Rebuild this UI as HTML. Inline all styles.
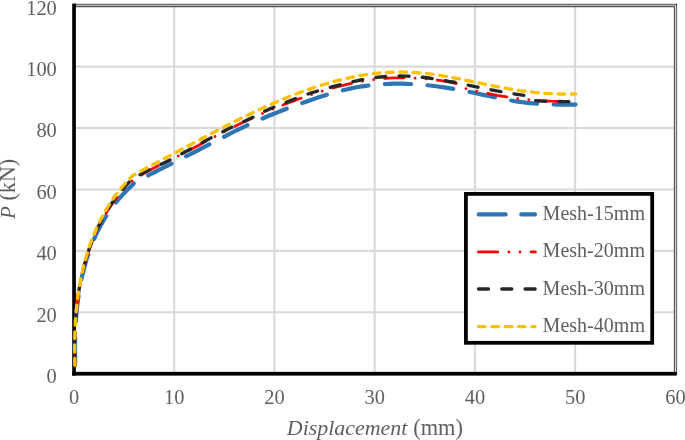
<!DOCTYPE html>
<html><head><meta charset="utf-8"><title>Chart</title>
<style>
html,body{margin:0;padding:0;background:#fff;}
body{width:685px;height:440px;overflow:hidden;font-family:"Liberation Serif",serif;}
svg{display:block;will-change:transform;filter:blur(0.35px);}
text{font-family:"Liberation Serif",serif;fill:#5f5f5f;}
.tick text{font-size:20.4px;}
.leg text{font-size:20.05px;}
.curve{fill:none;stroke-linecap:round;stroke-linejoin:round;}
</style></head><body>
<svg width="685" height="440" viewBox="0 0 685 440">
<rect x="0" y="0" width="685" height="440" fill="#fff"/>
<g stroke="#d9d9d9" stroke-width="2.1">
<line x1="174.2" y1="6" x2="174.2" y2="372" />
<line x1="274.4" y1="6" x2="274.4" y2="372" />
<line x1="374.7" y1="6" x2="374.7" y2="372" />
<line x1="474.9" y1="6" x2="474.9" y2="372" />
<line x1="575.1" y1="6" x2="575.1" y2="372" />
<line x1="76" y1="312.3" x2="674" y2="312.3" />
<line x1="76" y1="250.9" x2="674" y2="250.9" />
<line x1="76" y1="189.5" x2="674" y2="189.5" />
<line x1="76" y1="128.0" x2="674" y2="128.0" />
<line x1="76" y1="66.6" x2="674" y2="66.6" />
</g>
<!-- frame double line -->
<polyline points="74,4.5 676.5,4.5 676.5,375" fill="none" stroke="#707070" stroke-width="1.3"/>
<rect x="676" y="4" width="1" height="1" fill="#111"/>
<polyline points="74,6.5 674.5,6.5 674.5,373" fill="none" stroke="#565656" stroke-width="1.3"/>
<!-- axes -->
<rect x="72.2" y="3.6" width="3.7" height="372" fill="#000"/>
<rect x="72.2" y="371.85" width="604.5" height="3.75" fill="#000"/>
<!-- curves -->
<path class="curve" d="M75.4,367.9 L75.2,364.6 L75.1,361.2 L75.1,357.9 L75.0,354.6 L75.0,351.2 L75.0,347.8 L75.0,344.5 L75.0,341.1 L75.1,337.7 L75.2,334.3 L75.3,330.9 L75.5,327.5 L75.7,324.1 L75.9,320.7 L76.1,317.2 L76.4,313.8 L76.7,310.4 L77.1,307.0 L77.5,303.6 L77.9,300.2 L78.4,296.8 L78.9,293.5 L79.4,290.1 L80.0,286.7 L80.6,283.4 L81.3,280.0 L82.0,276.7 L82.8,273.4 L83.6,270.1 L84.5,266.8 L85.4,263.5 L86.3,260.3 L87.3,257.0 L88.4,253.8 L89.5,250.6 L90.6,247.5 L91.9,244.3 L93.1,241.2 L94.5,238.1 L95.8,235.1 L97.3,232.0 L98.8,229.0 L100.3,226.0 L102.0,223.1 L103.7,220.2 L105.4,217.3 L107.2,214.5 L109.1,211.7 L111.0,208.9 L113.0,206.1 L115.1,203.4 L117.3,200.8 L119.5,198.2 L121.8,195.6 L124.1,193.1 L126.5,190.6 L129.0,188.2 L131.6,185.8 L134.0,183.1 L138.0,180.9 L142.0,178.7 L146.0,176.6 L150.0,174.5 L154.0,172.5 L158.0,170.4 L162.0,168.4 L166.0,166.4 L170.0,164.4 L174.0,162.4 L178.0,160.3 L182.0,158.3 L186.0,156.3 L190.0,154.3 L194.0,152.3 L198.0,150.3 L202.0,148.2 L206.0,146.1 L210.0,144.1 L214.0,142.0 L218.0,139.9 L222.0,137.8 L226.0,135.8 L230.0,133.7 L234.0,131.7 L238.0,129.7 L242.0,127.8 L246.0,125.9 L250.0,124.0 L254.0,122.2 L258.0,120.4 L262.0,118.7 L266.0,117.0 L270.0,115.3 L274.0,113.7 L278.0,112.1 L282.0,110.5 L286.0,109.0 L290.0,107.5 L294.0,106.0 L298.0,104.6 L302.0,103.1 L306.0,101.7 L310.0,100.3 L314.0,98.9 L318.0,97.6 L322.0,96.3 L326.0,95.0 L330.0,93.8 L334.0,92.7 L338.0,91.6 L342.0,90.5 L346.0,89.5 L350.0,88.6 L354.0,87.8 L358.0,87.0 L362.0,86.4 L366.0,85.8 L370.0,85.3 L374.0,84.8 L378.0,84.5 L382.0,84.2 L386.0,84.0 L390.0,83.8 L394.0,83.7 L398.0,83.7 L402.0,83.7 L406.0,83.8 L410.0,84.0 L414.0,84.2 L418.0,84.4 L422.0,84.8 L426.0,85.1 L430.0,85.5 L434.0,86.0 L438.0,86.5 L442.0,87.1 L446.0,87.7 L450.0,88.3 L454.0,89.0 L458.0,89.7 L462.0,90.4 L466.0,91.2 L470.0,92.0 L474.0,92.8 L478.0,93.7 L482.0,94.6 L486.0,95.4 L490.0,96.3 L494.0,97.1 L498.0,98.0 L502.0,98.8 L506.0,99.6 L510.0,100.3 L514.0,101.0 L518.0,101.6 L522.0,102.2 L526.0,102.7 L530.0,103.1 L534.0,103.5 L538.0,103.8 L542.0,104.1 L546.0,104.3 L550.0,104.4 L554.0,104.5 L558.0,104.6 L562.0,104.7 L566.0,104.7 L570.0,104.7 L574.0,104.6 L575.5,104.6" stroke="#2e75b6" stroke-width="4.2" stroke-dasharray="26 16.6" stroke-dashoffset="-3.7"/>
<path class="curve" d="M75.1,367.9 L75.0,364.5 L74.9,361.2 L74.8,357.8 L74.8,354.4 L74.7,351.0 L74.7,347.6 L74.7,344.2 L74.8,340.8 L74.9,337.4 L75.0,334.0 L75.1,330.6 L75.3,327.1 L75.5,323.7 L75.7,320.3 L75.9,316.8 L76.2,313.4 L76.6,310.0 L76.9,306.6 L77.3,303.1 L77.7,299.7 L78.2,296.3 L78.7,292.9 L79.3,289.5 L79.8,286.1 L80.5,282.7 L81.1,279.4 L81.9,276.0 L82.6,272.6 L83.4,269.3 L84.2,266.0 L85.1,262.7 L86.1,259.4 L87.1,256.1 L88.1,252.9 L89.2,249.7 L90.3,246.4 L91.5,243.3 L92.7,240.1 L94.0,236.9 L95.4,233.8 L96.8,230.7 L98.2,227.7 L99.7,224.6 L101.3,221.6 L102.9,218.6 L104.6,215.7 L106.3,212.8 L108.1,209.9 L110.0,207.0 L111.9,204.2 L113.9,201.4 L116.0,198.7 L118.1,195.9 L120.3,193.3 L122.6,190.6 L124.9,188.0 L127.3,185.5 L129.7,183.0 L132.3,180.7 L136.3,178.1 L140.3,175.6 L144.3,173.2 L148.3,171.0 L152.4,168.8 L156.4,166.8 L160.4,164.8 L164.4,162.8 L168.4,160.8 L172.4,158.9 L176.4,156.9 L180.4,154.9 L184.5,152.8 L188.5,150.7 L192.5,148.6 L196.5,146.5 L200.5,144.3 L204.5,142.1 L208.5,140.0 L212.5,137.8 L216.6,135.7 L220.6,133.6 L224.6,131.5 L228.6,129.5 L232.6,127.5 L236.6,125.5 L240.6,123.6 L244.6,121.6 L248.7,119.7 L252.7,117.9 L256.7,116.1 L260.7,114.3 L264.7,112.5 L268.7,110.8 L272.7,109.1 L276.7,107.4 L280.8,105.8 L284.8,104.2 L288.8,102.6 L292.8,101.1 L296.8,99.6 L300.8,98.2 L304.8,96.7 L308.8,95.4 L312.9,94.0 L316.9,92.7 L320.9,91.5 L324.9,90.2 L328.9,89.0 L332.9,87.9 L336.9,86.8 L340.9,85.8 L345.0,84.8 L349.0,83.9 L353.0,83.0 L357.0,82.2 L361.0,81.5 L365.0,80.8 L369.0,80.2 L373.0,79.6 L377.1,79.1 L381.1,78.7 L385.1,78.4 L389.1,78.1 L393.1,77.9 L397.1,77.8 L401.1,77.8 L405.1,77.8 L409.2,77.8 L413.2,78.0 L417.2,78.2 L421.2,78.4 L425.2,78.8 L429.2,79.2 L433.2,79.6 L437.2,80.1 L441.3,80.7 L445.3,81.4 L449.3,82.1 L453.3,82.8 L457.3,83.6 L465.1,88.5 L469.1,89.4 L473.2,90.4 L477.2,91.3 L481.3,92.2 L485.3,93.0 L489.4,93.8 L493.4,94.6 L497.4,95.4 L501.5,96.1 L505.5,96.7 L509.6,97.3 L513.6,97.9 L517.7,98.5 L521.7,98.9 L525.7,99.4 L529.8,99.8 L533.8,100.2 L537.9,100.5 L541.9,100.8 L545.9,101.0 L550.0,101.2 L554.0,101.3 L558.1,101.4 L562.1,101.4 L566.2,101.4 L570.2,101.3" stroke="#ff0000" stroke-width="2.8" stroke-dasharray="19.4 11.1 0.01 11.1 0.01 11.1" stroke-dashoffset="-1.7"/>
<path class="curve" d="M75.0,367.9 L74.9,364.5 L74.8,361.1 L74.7,357.7 L74.7,354.3 L74.6,350.9 L74.6,347.4 L74.6,344.0 L74.7,340.6 L74.8,337.1 L74.9,333.7 L75.0,330.2 L75.2,326.8 L75.4,323.3 L75.6,319.8 L75.8,316.4 L76.1,312.9 L76.5,309.4 L76.8,306.0 L77.2,302.5 L77.7,299.1 L78.2,295.6 L78.7,292.2 L79.2,288.8 L79.8,285.4 L80.5,282.0 L81.1,278.6 L81.9,275.2 L82.6,271.8 L83.4,268.4 L84.3,265.1 L85.2,261.8 L86.1,258.5 L87.1,255.2 L88.2,251.9 L89.3,248.6 L90.4,245.4 L91.6,242.2 L92.9,239.0 L94.2,235.8 L95.5,232.7 L96.9,229.5 L98.4,226.4 L99.9,223.4 L101.5,220.3 L103.1,217.3 L104.8,214.3 L106.6,211.4 L108.4,208.5 L110.3,205.6 L112.2,202.7 L114.2,199.9 L116.3,197.1 L118.4,194.4 L120.6,191.7 L122.8,189.0 L125.2,186.4 L127.6,183.8 L130.0,181.2 L132.5,178.9 L136.5,176.6 L140.5,174.4 L144.5,172.3 L148.5,170.3 L152.5,168.4 L156.5,166.5 L160.5,164.6 L164.5,162.7 L168.5,160.7 L172.5,158.7 L176.5,156.6 L180.5,154.5 L184.5,152.3 L188.5,150.1 L192.5,147.9 L196.5,145.7 L200.6,143.5 L204.6,141.3 L208.6,139.2 L212.6,137.0 L216.6,134.9 L220.6,132.8 L224.6,130.8 L228.6,128.8 L232.6,126.8 L236.6,124.9 L240.6,123.0 L244.6,121.2 L248.6,119.3 L252.6,117.4 L256.6,115.4 L260.6,113.3 L264.6,111.3 L268.6,109.4 L272.6,107.7 L276.6,106.1 L280.6,104.5 L284.6,102.9 L288.6,101.3 L292.6,99.7 L296.6,98.2 L300.6,96.7 L304.6,95.2 L308.6,93.8 L312.6,92.5 L316.6,91.3 L320.6,90.1 L324.6,88.9 L328.6,87.8 L332.7,86.7 L336.7,85.6 L340.7,84.6 L344.7,83.6 L348.7,82.6 L352.7,81.7 L356.7,80.8 L360.7,80.0 L364.7,79.3 L368.7,78.6 L372.7,78.0 L376.7,77.4 L380.7,77.0 L384.7,76.6 L388.7,76.3 L392.7,76.1 L396.7,76.0 L400.7,76.0 L404.7,76.1 L408.7,76.2 L412.7,76.5 L416.7,76.8 L420.7,77.1 L424.7,77.5 L428.7,78.0 L432.7,78.6 L436.7,79.2 L440.7,79.8 L444.7,80.5 L448.7,81.3 L452.7,82.0 L456.7,82.8 L460.8,83.7 L464.8,84.5 L468.8,85.3 L472.8,86.1 L476.8,87.0 L480.8,87.8 L484.8,88.6 L488.8,89.4 L492.8,90.1 L496.8,90.9 L500.8,91.6 L504.8,92.3 L508.8,93.0 L512.8,93.7 L516.8,94.3 L520.8,94.9 L524.8,95.5 L531.8,100.4 L535.8,100.7 L539.7,101.0 L543.7,101.2 L547.7,101.3 L551.7,101.4 L555.6,101.5 L559.6,101.5 L563.6,101.6 L567.6,101.6 L571.5,101.7 L575.5,101.8" stroke="#262626" stroke-width="3.33" stroke-dasharray="10 13.3" stroke-dashoffset="-2.7"/>
<path class="curve" d="M75.0,366.8 L74.9,363.5 L74.8,360.0 L74.7,356.6 L74.7,353.2 L74.6,349.8 L74.6,346.3 L74.7,342.8 L74.7,339.4 L74.8,335.9 L74.9,332.4 L75.0,329.0 L75.2,325.5 L75.4,322.0 L75.6,318.5 L75.9,315.0 L76.2,311.5 L76.5,308.1 L76.9,304.6 L77.3,301.1 L77.7,297.6 L78.2,294.2 L78.7,290.7 L79.3,287.3 L79.9,283.8 L80.5,280.4 L81.2,277.0 L81.9,273.5 L82.7,270.1 L83.5,266.8 L84.3,263.4 L85.2,260.0 L86.2,256.7 L87.2,253.4 L88.2,250.1 L89.3,246.8 L90.4,243.5 L91.6,240.3 L92.9,237.0 L94.2,233.8 L95.5,230.6 L96.9,227.5 L98.4,224.4 L99.9,221.3 L101.4,218.2 L103.1,215.1 L104.7,212.1 L106.5,209.1 L108.3,206.2 L110.1,203.3 L112.0,200.4 L114.0,197.5 L116.1,194.7 L118.2,191.9 L120.4,189.2 L122.6,186.5 L124.9,183.8 L127.3,181.2 L129.7,178.6 L132.3,175.8 L136.3,173.6 L140.3,171.4 L144.3,169.3 L148.4,167.1 L152.4,165.0 L156.4,162.8 L160.4,160.7 L164.4,158.5 L168.4,156.4 L172.4,154.2 L176.5,152.1 L180.5,150.0 L184.5,147.8 L188.5,145.7 L192.5,143.6 L196.5,141.4 L200.6,139.3 L204.6,137.2 L208.6,135.1 L212.6,132.9 L216.6,130.9 L220.6,128.8 L224.6,126.7 L228.7,124.6 L232.7,122.6 L236.7,120.6 L240.7,118.6 L244.7,116.6 L248.7,114.7 L252.7,112.7 L256.8,110.8 L260.8,109.0 L264.8,107.1 L268.8,105.3 L272.8,103.6 L276.8,101.8 L280.9,100.1 L284.9,98.4 L288.9,96.8 L292.9,95.2 L296.9,93.7 L300.9,92.1 L304.9,90.7 L309.0,89.3 L313.0,87.9 L317.0,86.6 L321.0,85.3 L325.0,84.0 L329.0,82.9 L333.0,81.7 L337.1,80.7 L341.1,79.7 L345.1,78.7 L349.1,77.8 L353.1,77.0 L357.1,76.2 L361.1,75.5 L365.2,74.8 L369.2,74.3 L373.2,73.7 L377.2,73.3 L381.2,72.9 L385.2,72.6 L389.3,72.3 L393.3,72.2 L397.3,72.1 L401.3,72.0 L405.3,72.1 L409.3,72.2 L413.3,72.4 L417.4,72.6 L421.4,73.0 L425.4,73.4 L429.4,73.9 L433.4,74.4 L437.4,75.0 L441.4,75.6 L445.5,76.3 L449.5,77.0 L453.5,77.8 L457.5,78.5 L461.5,79.3 L465.5,80.2 L469.6,81.0 L473.6,81.8 L477.6,82.6 L481.6,83.4 L485.6,84.3 L489.6,85.1 L493.6,85.9 L497.7,86.7 L501.7,87.4 L505.7,88.2 L509.7,88.9 L513.7,89.5 L517.7,90.2 L521.7,90.8 L525.8,91.3 L529.8,91.8 L533.8,92.3 L537.8,92.7 L541.8,93.1 L545.8,93.4 L549.9,93.6 L553.9,93.8 L557.9,93.9 L561.9,94.0 L565.9,94.1 L569.9,94.0 L573.9,94.0 L575.5,93.9" stroke="#ffc000" stroke-width="3.33" stroke-dasharray="6.67 6.67" stroke-dashoffset="-1.6"/>
<!-- legend -->
<rect x="465.9" y="193.9" width="186.3" height="148.9" fill="#fff" stroke="#000" stroke-width="3.75"/>
<g class="leg">
<path class="curve" d="M478.7,214.4 L535,214.4" stroke="#2e75b6" stroke-width="4.2" stroke-dasharray="27 15.6"/>
<path class="curve" d="M478.4,251.9 L535.4,251.9" stroke="#ff0000" stroke-width="2.8" stroke-dasharray="19.4 11.1 0.01 11.1 0.01 11.1"/>
<path class="curve" d="M478.5,289 L535.1,289" stroke="#262626" stroke-width="3.33" stroke-dasharray="10 13.3"/>
<path class="curve" d="M478.5,326.6 L535.1,326.6" stroke="#ffc000" stroke-width="3.33" stroke-dasharray="6.67 6.67"/>
<text x="542.6" y="219.7">Mesh-15mm</text>
<text x="542.6" y="257.1">Mesh-20mm</text>
<text x="542.6" y="294.5">Mesh-30mm</text>
<text x="542.6" y="331.9">Mesh-40mm</text>
</g>
<g class="tick">
<text x="56.8" y="383.0" text-anchor="end">0</text>
<text x="56.8" y="321.6" text-anchor="end">20</text>
<text x="56.8" y="260.2" text-anchor="end">40</text>
<text x="56.8" y="198.8" text-anchor="end">60</text>
<text x="56.8" y="137.3" text-anchor="end">80</text>
<text x="56.8" y="75.9" text-anchor="end">100</text>
<text x="56.8" y="14.5" text-anchor="end">120</text>
<text x="74.1" y="404.4" text-anchor="middle">0</text>
<text x="174.3" y="404.4" text-anchor="middle">10</text>
<text x="274.5" y="404.4" text-anchor="middle">20</text>
<text x="374.8" y="404.4" text-anchor="middle">30</text>
<text x="475.0" y="404.4" text-anchor="middle">40</text>
<text x="575.2" y="404.4" text-anchor="middle">50</text>
<text x="675.4" y="404.4" text-anchor="middle">60</text>
</g>
<text x="286.8" y="435.2"><tspan font-style="italic" style="font-size:21.95px">Displacement</tspan><tspan x="413.3" style="font-size:22.35px">(mm)</tspan></text>
<text transform="translate(14.7,219.1) rotate(-90)"><tspan font-style="italic" style="font-size:20.8px">P</tspan><tspan x="18.6" style="font-size:22.1px">(kN)</tspan></text>
</svg>
</body></html>
